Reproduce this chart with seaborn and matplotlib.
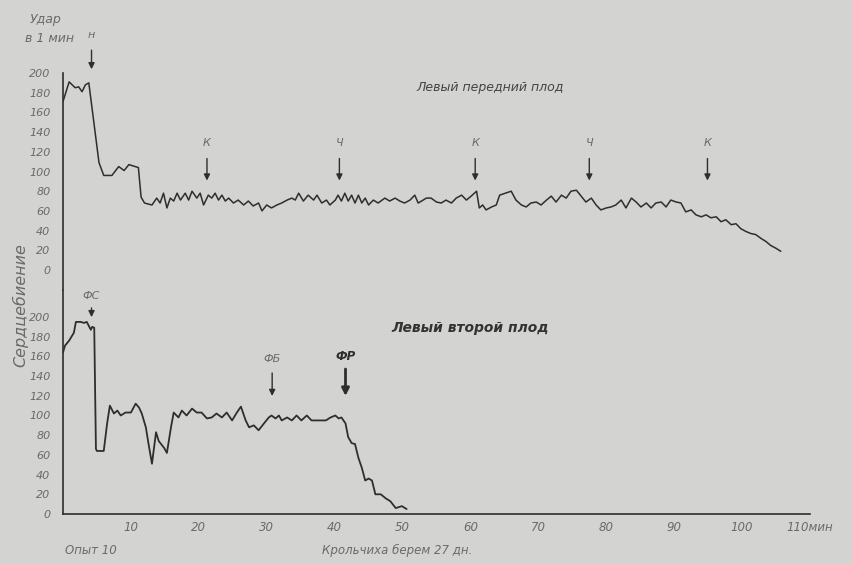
import matplotlib
matplotlib.use("Agg")
import matplotlib.pyplot as plt
import seaborn as sns
import pandas as pd

# ---------------- data ----------------
# Upper trace: "Левый передний плод" (minutes, beats per minute)
upper_min = [0, 0.9, 1.8, 2.3, 2.8, 3.3, 3.8, 5.3, 6.0, 7.2, 8.2, 9.0, 9.7, 10.6, 11.1, 11.5, 12.0,
             13.1, 13.8, 14.3, 14.8, 15.3, 15.8, 16.3, 16.8, 17.3, 18.0, 18.5, 19.0, 19.7, 20.2,
             20.7, 21.4, 21.9, 22.4, 22.9, 23.4, 23.9, 24.4, 25.1, 25.8, 26.6, 27.3, 28.0, 28.8,
             29.3, 30.0, 30.7, 31.5, 32.2, 33.0, 33.7, 34.2, 34.7, 35.4, 36.1, 36.9, 37.4, 38.1,
             38.8, 39.3, 40.1, 40.5, 41.0, 41.5, 42.0, 42.5, 43.0, 43.5, 44.0, 44.5, 45.0, 45.7,
             46.4, 47.4, 48.1, 48.9, 49.6, 50.3, 51.1, 51.8, 52.3, 52.8, 53.5,
             54.2, 55.0, 55.7, 56.4, 57.2, 57.9, 58.7, 59.4, 60.1, 60.9, 61.3, 61.8, 62.3, 63.1,
             63.8, 64.3, 66.0, 66.7, 67.5, 68.2, 68.9, 69.7, 70.4, 71.2, 71.9, 72.6, 73.4, 74.1,
             74.8, 75.6, 76.3, 77.0, 77.8, 78.5, 79.2, 80.0, 80.7, 81.4, 82.2, 82.9, 83.7, 84.4,
             85.1, 85.9, 86.6, 87.3, 88.1, 88.8, 89.5, 90.3, 91.0, 91.7, 92.5, 93.2, 94.0, 94.7,
             95.4, 96.2, 96.9, 97.6, 98.4, 99.1, 99.8, 100.6, 101.3, 102.0, 102.8, 103.5, 104.2,
             105.0, 105.7]
upper_bpm = [171, 191, 185, 186, 181, 188, 190, 109, 96, 96, 105, 101, 107, 105, 104, 74, 68,
             66, 73, 68, 78, 63, 73, 70, 78, 71, 78, 71, 80, 73, 78,
             66, 76, 73, 78, 71, 76, 70, 73, 68, 71, 66, 70, 65, 68,
             60, 66, 63, 66, 68, 71, 73, 71, 78, 70, 76, 71, 76, 68,
             71, 66, 71, 76, 70, 78, 70, 76, 68, 76, 68, 73, 66, 71,
             68, 73, 70, 73, 70, 68, 71, 76, 68, 70, 73,
             73, 69, 68, 71, 68, 73, 76, 71, 75, 80, 63, 66, 61, 64,
             66, 76, 80, 71, 66, 64, 68, 69, 66, 71, 75, 69, 76, 73,
             80, 81, 75, 69, 73, 66, 61, 63, 64, 66, 71, 63, 73, 69,
             64, 68, 63, 68, 69, 64, 71, 69, 68, 59, 61, 56, 54, 56,
             53, 54, 49, 51, 46, 47, 42, 39, 37, 36, 32, 29, 25,
             22, 19]

# Lower trace: "Левый второй плод"
lower_min = [0, 0.3, 0.9, 1.6, 1.9, 2.6, 3.1, 3.5, 4.1, 4.3, 4.6, 4.85, 5.0, 6.0, 6.5, 6.9, 7.5,
             8.0, 8.5, 9.2, 10.0, 10.7, 11.2, 11.6, 12.2, 12.6, 13.1, 13.7, 14.1, 14.9, 15.3,
             15.9, 16.3, 17.0, 17.5, 18.2, 19.0, 19.7, 20.4, 21.2, 21.9, 22.6, 23.4, 24.1, 24.9,
             25.6, 26.2, 26.9, 27.4, 28.1, 28.8, 29.6, 30.3, 30.7, 31.3, 31.8, 32.2, 33.0, 33.7,
             34.4, 35.1, 35.9, 36.6, 37.2, 38.7, 39.4, 40.1, 40.6, 41.0, 41.6, 42.0, 42.5, 43.0,
             43.5, 44.0, 44.5, 45.0, 45.5, 46.0, 46.8, 47.5, 48.2, 49.0, 49.9, 50.6]
lower_bpm = [164, 171, 176, 184, 195, 195, 194, 195, 187, 190, 189, 66, 64, 64, 92, 110, 102,
             105, 100, 103, 103, 112, 108, 102, 88, 71, 51, 83, 74, 67, 62,
             88, 103, 98, 105, 100, 107, 103, 103, 97, 98, 102, 98, 103, 95,
             103, 109, 95, 88, 90, 85, 92, 98, 100, 97, 100, 95, 98, 95,
             100, 95, 100, 95, 95, 95, 98, 100, 97, 98, 92, 78, 72, 71,
             57, 47, 34, 36, 34, 20, 20, 16, 13, 6, 8, 5]

# Arrow marks: (minute, label)
upper_marks = [(4.2, "н"), (21.2, "К"), (40.7, "Ч"), (60.7, "К"), (77.5, "Ч"), (94.9, "К")]
lower_marks = [(4.2, "ФС"), (30.8, "ФБ"), (41.6, "ФР")]

x_ticks = [10, 20, 30, 40, 50, 60, 70, 80, 90, 100, 110]
x_labels = ["10", "20", "30", "40", "50", "60", "70", "80", "90", "100", "110мин"]
y_ticks = [0, 20, 40, 60, 80, 100, 120, 140, 160, 180, 200]

# ---------------- style ----------------
BG = "#d3d3d1"
INK = "#2e2e2e"
GREY = "#6a6a6a"

sns.set_style("white", {"axes.facecolor": BG, "figure.facecolor": BG})
plt.rcParams["font.family"] = ["DejaVu Sans"]

W, H = 853, 564
fig = plt.figure(figsize=(W / 100, H / 100), dpi=100)

x0, x1 = 63, 810
ax_up = fig.add_axes([x0 / W, 1 - 290 / H, (x1 - x0) / W, 217 / H])
ax_lo = fig.add_axes([x0 / W, 1 - 514 / H, (x1 - x0) / W, 224 / H])

df_up = pd.DataFrame({"min": upper_min, "bpm": upper_bpm})
df_lo = pd.DataFrame({"min": lower_min, "bpm": lower_bpm})

sns.lineplot(data=df_up, x="min", y="bpm", ax=ax_up, color=INK, lw=1.1, sort=False, estimator=None)
sns.lineplot(data=df_lo, x="min", y="bpm", ax=ax_lo, color=INK, lw=1.3, sort=False, estimator=None)

for ax in (ax_up, ax_lo):
    ax.set_facecolor(BG)
    ax.set_xlim(0, 110)
    ax.set_xlabel("")
    ax.set_ylabel("")
    ax.set_yticks(y_ticks)
    ax.set_yticklabels([str(v) for v in y_ticks], fontsize=8, style="italic", color=GREY)
    ax.tick_params(axis="y", direction="in", length=3, width=0.8, pad=9, colors=INK, labelcolor=GREY)
    for s in ("top", "right"):
        ax.spines[s].set_visible(False)
    ax.spines["left"].set_color(INK)
    ax.spines["left"].set_linewidth(1.2)

ax_up.set_ylim(-20.3, 200)
ax_up.spines["bottom"].set_visible(False)
ax_up.set_xticks([])

ax_lo.set_ylim(0, 227.4)
ax_lo.spines["bottom"].set_color(INK)
ax_lo.spines["bottom"].set_linewidth(1.2)
ax_lo.set_xticks(x_ticks)
ax_lo.set_xticklabels(x_labels, fontsize=8.5, style="italic", color=GREY)
ax_lo.tick_params(axis="x", direction="in", length=3, width=0.8, pad=5, colors=INK, labelcolor=GREY)

# arrows on the upper trace
for i, (m, lab) in enumerate(upper_marks):
    if i == 0:
        tail, tip, ty = 226, 201, 234
    else:
        tail, tip, ty = 116, 88, 124
    ax_up.annotate("", xy=(m, tip), xytext=(m, tail), annotation_clip=False,
                   arrowprops=dict(arrowstyle="-|>", color=INK, lw=1.0, mutation_scale=9))
    ax_up.text(m, ty, lab, ha="center", va="bottom", fontsize=8, style="italic", color=GREY,
               clip_on=False)

# arrows on the lower trace
lower_geo = [(212, 197, 216), (146, 117, 152), (150, 117, 153)]
for (m, lab), (tail, tip, ty) in zip(lower_marks, lower_geo):
    bold = lab == "ФР"
    ax_lo.annotate("", xy=(m, tip), xytext=(m, tail), annotation_clip=False,
                   arrowprops=dict(arrowstyle="-|>", color=INK, lw=2.0 if bold else 1.0,
                                   mutation_scale=11 if bold else 9))
    ax_lo.text(m, ty, lab, ha="center", va="bottom", fontsize=8.5 if bold else 8, style="italic",
               fontweight="bold" if bold else "normal", color=INK if bold else GREY, clip_on=False)

# titles of the two traces
fig.text(490 / W, 1 - 88 / H, "Левый передний плод", ha="center", va="center", fontsize=9,
         style="italic", color="#444444")
fig.text(470 / W, 1 - 328 / H, "Левый второй плод", ha="center", va="center", fontsize=10,
         style="italic", fontweight="bold", color="#333333")

# axis captions
fig.text(30 / W, 1 - 20 / H, "Удар", ha="left", va="center", fontsize=9, style="italic", color=GREY)
fig.text(25 / W, 1 - 39 / H, "в 1 мин", ha="left", va="center", fontsize=9, style="italic", color=GREY)
fig.text(20 / W, 1 - 305 / H, "Сердцебиение", ha="center", va="center", rotation=90, fontsize=11.5,
         style="italic", color=GREY)
fig.text(65 / W, 1 - 550 / H, "Опыт 10", ha="left", va="center", fontsize=8.5, style="italic", color=GREY)
fig.text(322 / W, 1 - 550 / H, "Крольчиха берем 27 дн.", ha="left", va="center", fontsize=8.5,
         style="italic", color=GREY)

fig.savefig("out.png", dpi=100, facecolor=BG)
